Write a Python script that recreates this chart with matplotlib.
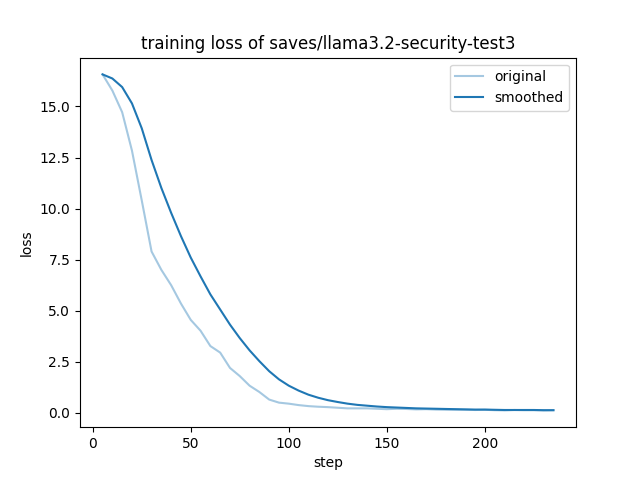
import matplotlib
matplotlib.use("Agg")
import matplotlib.pyplot as plt

steps = list(range(5, 240, 5))
original = [16.57, 15.78, 14.72, 12.84, 10.40, 7.90, 7.00, 6.25, 5.35, 4.55,
            4.02, 3.27, 2.95, 2.20, 1.80, 1.33, 1.02, 0.65, 0.50, 0.45,
            0.38, 0.33, 0.30, 0.28, 0.25, 0.22, 0.22, 0.22, 0.20, 0.18,
            0.20, 0.19, 0.17, 0.18, 0.16, 0.15, 0.15, 0.15, 0.14, 0.15,
            0.13, 0.12, 0.14, 0.13, 0.13, 0.12, 0.13]
smoothed = [16.57, 16.37, 15.95, 15.15, 13.93, 12.38, 11.01, 9.79, 8.65, 7.60,
            6.68, 5.80, 5.06, 4.32, 3.66, 3.06, 2.53, 2.04, 1.64, 1.33,
            1.09, 0.89, 0.74, 0.62, 0.53, 0.45, 0.39, 0.35, 0.31, 0.28,
            0.26, 0.24, 0.22, 0.21, 0.20, 0.19, 0.18, 0.17, 0.16, 0.16,
            0.15, 0.14, 0.14, 0.14, 0.14, 0.13, 0.13]

fig = plt.figure(figsize=(6.4, 4.8), dpi=100)
plt.plot(steps, original, color="#1f77b4", alpha=0.4, label="original")
plt.plot(steps, smoothed, color="#1f77b4", label="smoothed")
plt.title("training loss of saves/llama3.2-security-test3")
plt.xlabel("step")
plt.ylabel("loss")
plt.legend()
plt.savefig("out.png", dpi=100)
